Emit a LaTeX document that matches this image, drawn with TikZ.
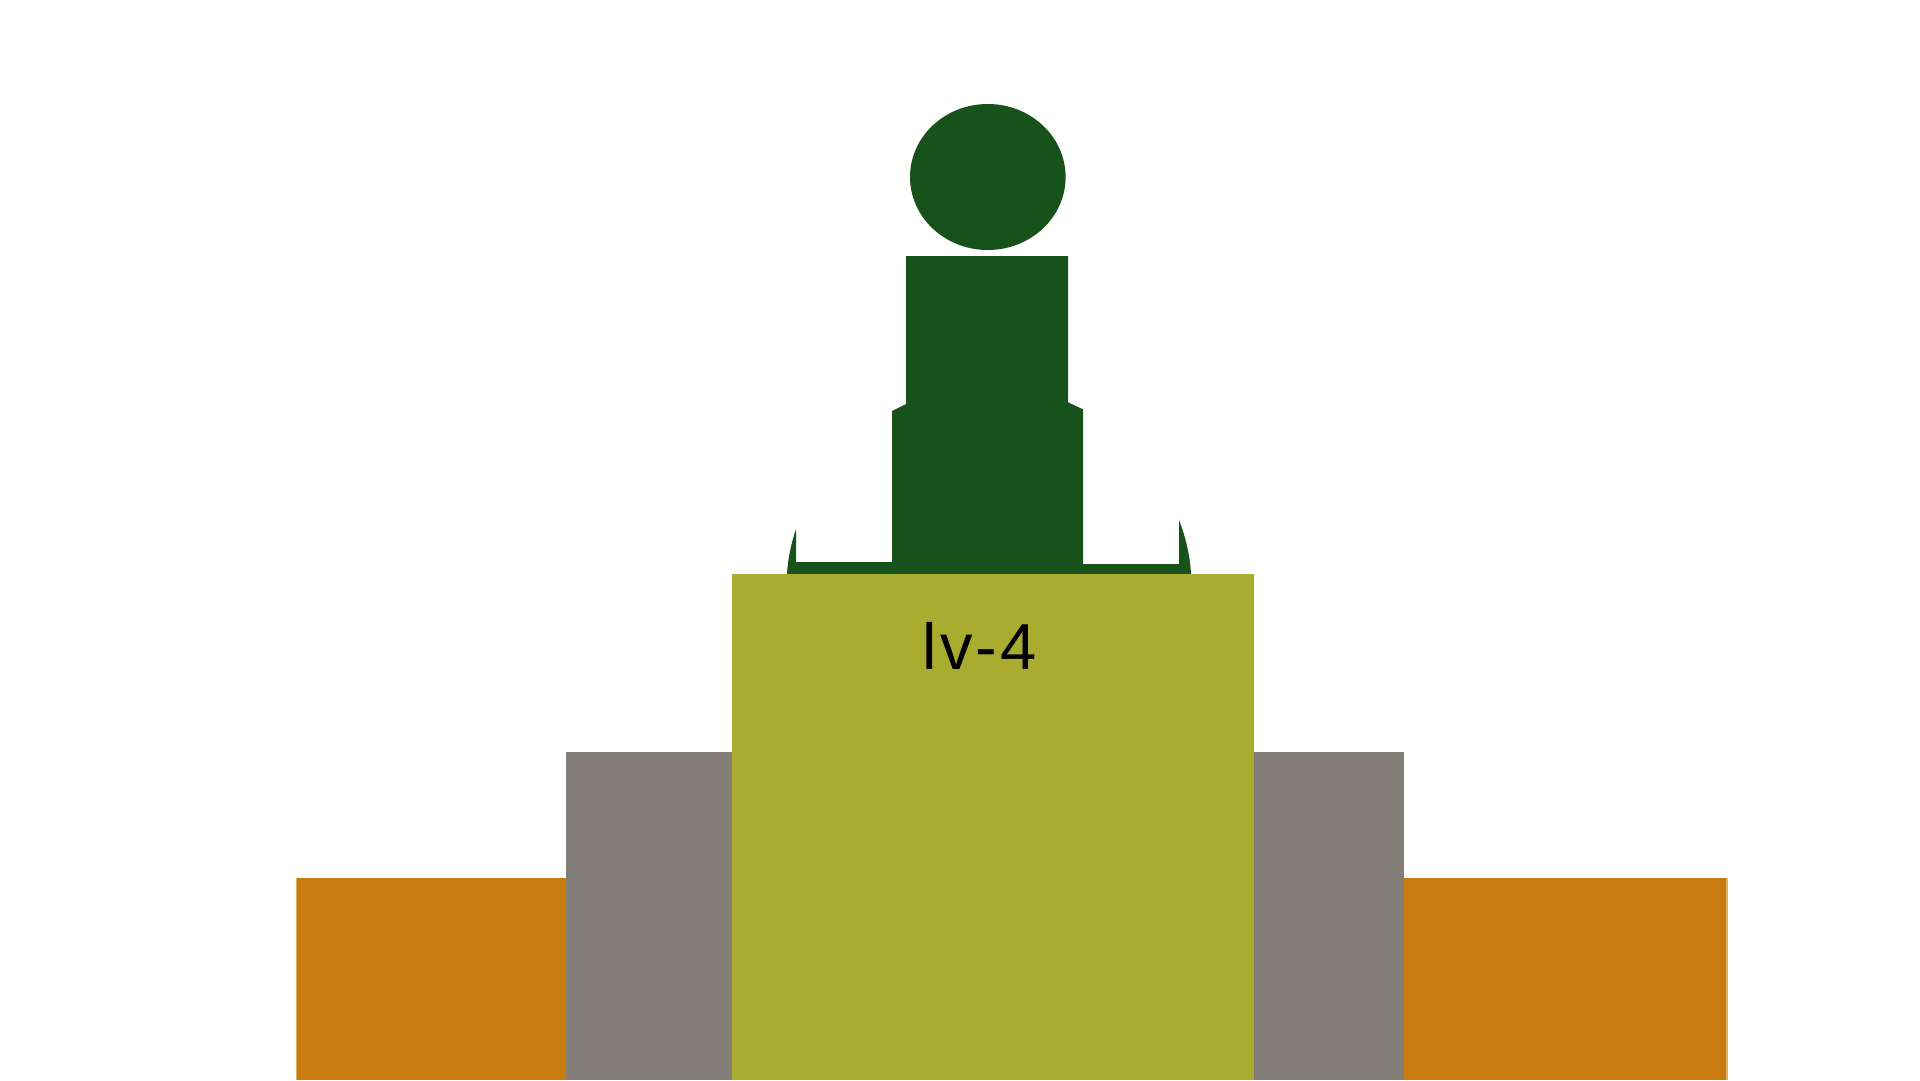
\documentclass[tikz,border=0pt]{standalone}
\usepackage{fontspec}
\setmainfont[Kerning=Off,LetterSpace=4.6]{Liberation Sans}
\definecolor{figgreen}{RGB}{22,82,25}
\definecolor{figolive}{RGB}{170,172,48}
\definecolor{figgray}{RGB}{131,127,120}
\definecolor{figorange}{RGB}{202,123,15}
\definecolor{figedge}{RGB}{226,176,100}
\tikzset{solidshape/.style={fill=#1,draw=none}}
\begin{document}
\begin{tikzpicture}[x=1pt,y=-1pt]
\useasboundingbox (0,0) rectangle (1920,1080);
\fill[white] (0,0) rectangle (1920,1080);
% figure
\fill[solidshape=figgreen] (987.8,177) ellipse [x radius=77.8,y radius=73];
\fill[solidshape=figgreen] (906,256) -- (1068,256) -- (1068,402.3) -- (1083,409.3) -- (1083,564)
  -- (1179,564) -- (1179,520) .. controls (1186,538) and (1190,556) .. (1191,574)
  -- (787,574) .. controls (788,558) and (791,544) .. (796,529.3)
  -- (796,562) -- (892,562) -- (892,411) -- (906,404) -- cycle;
% steps
\fill[solidshape=figedge] (296,878) rectangle (297,1080);
\fill[solidshape=figedge] (1726,878) rectangle (1728,1080);
\fill[solidshape=figorange] (297,878) rectangle (566,1080);
\fill[solidshape=figorange] (1404,878) rectangle (1726,1080);
\fill[solidshape=figgray] (566,752) rectangle (732,1080);
\fill[solidshape=figgray] (1254,752) rectangle (1404,1080);
\fill[solidshape=figolive] (732,574) rectangle (1254,1080);
\node[anchor=base west,inner sep=0pt,text=black,font=\fontsize{65}{65}\selectfont] (label) at (922.5,669) {lv-4};
\end{tikzpicture}
\end{document}
